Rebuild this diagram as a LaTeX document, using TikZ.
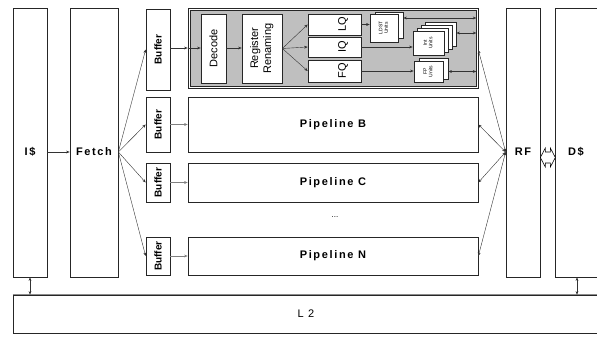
\documentclass[tikz,border=0pt]{standalone}
\usepackage{fontspec}
\setmainfont{Liberation Sans}
\usetikzlibrary{arrows.meta}

\begin{document}
\begin{tikzpicture}[x=1pt,y=-1pt,
  box/.style={draw=black!85, line width=0.7pt, fill=white, inner sep=0pt},
  lbl/.style={font=\bfseries\fontsize{11}{13}\selectfont\addfontfeature{LetterSpace=15}},
  qtxt/.style={font=\fontsize{11}{13}\selectfont},
  unit/.style={box, font=\fontsize{5}{5.5}\selectfont},
  arr/.style={-{Stealth[length=3.5pt,width=2.8pt]}, black!80, line width=0.4pt},
  darr/.style={{Stealth[length=3.5pt,width=2.8pt]}-{Stealth[length=3.5pt,width=2.8pt]}, black!80, line width=0.4pt}]

  \useasboundingbox (0,0) rectangle (597,337);

  % caches, fetch, register file
  \node[box, minimum width=34, minimum height=269] (icache) at (30,142.5) {};
  \node[lbl] (icachelbl) at (30,152) {I\$};
  \node[box, minimum width=48, minimum height=269] (fetch) at (94,142.5) {};
  \node[lbl] (fetchlbl) at (94,152) {Fetch};
  \node[box, minimum width=34, minimum height=269] (rf) at (523,142.5) {};
  \node[lbl] (rflbl) at (523,152) {RF};
  \node[box, minimum width=50, minimum height=269] (dcache) at (580,142.5) {};
  \node[lbl] (dcachelbl) at (576,152) {D\$};
  \node[box, minimum width=592, minimum height=38] (l2) at (309,314) {};
  \node[font=\fontsize{11}{13}\selectfont\addfontfeature{LetterSpace=40}] (l2lbl) at (306,314) {L2};
  \draw[black!45, line width=1.4pt] (l2.north west) -- (l2.north east);

  % buffers
  \foreach \n/\y/\h in {1/49.5/81, 2/124.5/55, 3/182.5/39, 4/256/38}
    \node[box, font=\bfseries\fontsize{10}{12}\selectfont, minimum width=24, minimum height=\h] (buf\n) at (158,\y) {\rotatebox{90}{Buffer}};

  % pipelines
  \node[box, minimum width=290, minimum height=80] (pipeA) at (333,48) {};
  \node[box, fill=black!25, minimum width=286, minimum height=76] (core) at (333,48) {};
  \foreach \n/\y/\h in {B/124.5/55, C/182.5/39, N/256/38}
    \node[box, lbl, minimum width=290, minimum height=\h] (pipe\n) at (333,\y) {Pipeline \n};
  \node[font=\fontsize{8}{9}\selectfont] (dots) at (335,217) {...};

  % inside pipeline A
  \node[box, qtxt, minimum width=25, minimum height=69] (decode) at (213.5,48.5) {\rotatebox{90}{Decode}};
  \node[box, qtxt, minimum width=40, minimum height=69] (rename) at (262,48.5)
    {\rotatebox{90}{\begin{tabular}{@{}c@{}}Register\\Renaming\end{tabular}}};
  \foreach \n/\t/\y/\h in {lq/LQ/24.5/21, iq/IQ/47/20, fq/FQ/71/22}
    \node[box, qtxt, minimum width=53, minimum height=\h] (\n) at (334.5,\y) {\hspace*{17pt}\rotatebox{90}{\t}};

  % execution units
  \node[unit, minimum width=28, minimum height=26] (ldst1) at (389,25.5) {};
  \node[unit, minimum width=28, minimum height=28] (ldst) at (384,28)
    {\rotatebox{90}{\begin{tabular}{@{}c@{}}LDST\\Units\end{tabular}}};
  \foreach \k in {3,2,1}
    \node[unit, minimum width=31, minimum height=24] (int\k) at (428.5+4*\k,43-3*\k) {};
  \node[unit, minimum width=31, minimum height=24] (int) at (428.5,43)
    {\rotatebox{90}{\begin{tabular}{@{}c@{}}Int\\Units\end{tabular}}};
  \node[unit, minimum width=29, minimum height=21] (fp1) at (433.5,68.5) {};
  \node[unit, minimum width=29, minimum height=21] (fp) at (428.5,71.5)
    {\rotatebox{90}{\begin{tabular}{@{}c@{}}FP\\Units\end{tabular}}};

  % front end connectors
  \draw[arr] (icache.east |- fetchlbl) -- (fetch.west |- fetchlbl);
  \coordinate (fetchout) at (fetch.east |- fetchlbl);
  \foreach \n in {1,...,4}
    \draw[arr] (fetchout) -- (buf\n.west);
  \draw[arr] (buf1.east |- pipeA) -- (pipeA.west);
  \draw[arr] (pipeA.west) -- (decode.west |- pipeA);
  \foreach \b/\p in {2/B, 3/C, 4/N}
    \draw[arr, black!50] (buf\b.east) -- (pipe\p.west);

  % pipeline A connectors
  \draw[arr] (decode.east |- pipeA) -- (rename.west |- pipeA);
  \foreach \q in {lq,iq,fq}
    \draw[arr] (rename.east) -- (\q.west);
  \draw[arr] (lq.east) -- (lq.east -| ldst.west);
  \draw[arr] (iq.east) -- (iq.east -| int.west);
  \draw[arr] (fq.east) -- (fq.east -| fp.west);
  \draw[darr] (ldst1.east |- 0,18) -- (core.east |- 0,18);
  \draw[darr] (int3.east |- 0,33) -- (core.east |- 0,33);
  \draw[darr] (fp1.east |- fp) -- (core.east |- fp);

  % register file connectors
  \coordinate (rfin) at (rf.west |- rflbl);
  \draw[darr] (rfin) -- (pipeA.east |- 0,50);
  \foreach \p in {B,C,N}
    \draw[darr] (rfin) -- (pipe\p.east);
  \draw[black, line width=0.6pt, fill=white] (rf.east |- 0,157.5) -- ++(5,-9.5) -- ++(0,4) -- ++(5,0) -- ++(0,-4)
    -- ++(5,9.5) -- ++(-5,9.5) -- ++(0,-4) -- ++(-5,0) -- ++(0,4) -- cycle;

  % memory connectors
  \draw[darr] (icache.south) -- (icache.south |- l2.north);
  \draw[darr] ([xshift=-3]dcache.south) -- ([xshift=-3]dcache.south |- l2.north);
\end{tikzpicture}
\end{document}
